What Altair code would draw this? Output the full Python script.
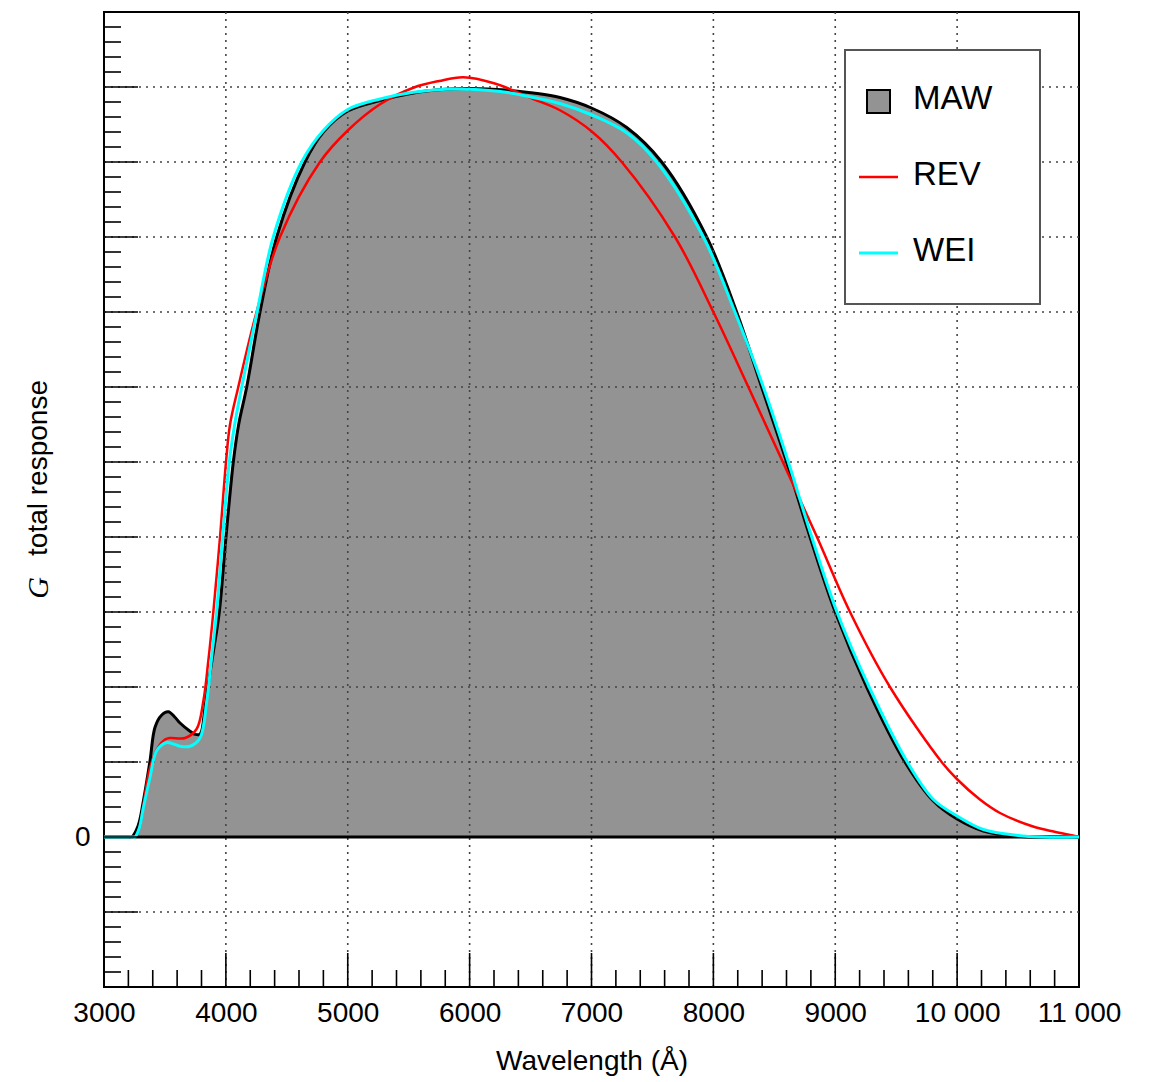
import altair as alt
import pandas as pd

# ---------------- data ----------------
maw_wl = [3000, 3200, 3227, 3280, 3323, 3377, 3418, 3470, 3528, 3580, 3624, 3706, 3747, 3788,
          3830, 3856, 3900, 3946, 4001, 4061, 4105, 4171, 4280, 4417, 4649, 4800, 5000, 5265, 5538,
          5800, 6000, 6300, 6522, 6741, 7000, 7289, 7576, 7945, 8191, 8396, 8601, 8793, 9000,
          9258, 9572, 9805, 10000, 10215, 10489, 10700, 11000]
maw_val = [0, 0, 0, 0.15, 0.48, 1.01, 1.46, 1.62, 1.67, 1.6, 1.52, 1.41, 1.37, 1.37,
           1.75, 2.05, 2.5, 3.0, 4.0, 5.0, 5.5, 6.0, 7.0, 8.0, 9.0, 9.4, 9.68, 9.82, 9.92,
           9.97, 9.98, 9.96, 9.92, 9.86, 9.72, 9.46, 9.0, 8.0, 7.0, 6.0, 5.0, 4.0, 3.0,
           2.0, 1.0, 0.48, 0.24, 0.08, 0.01, 0, 0]

rev_wl = [3000, 3200, 3250, 3290, 3323, 3377, 3446, 3500, 3541, 3665, 3760, 3815, 3856, 3897,
          3952, 4001, 4034, 4102, 4252, 4444, 4772, 5000, 5265, 5538, 5750, 5948, 6200, 6522, 6741,
          7000, 7248, 7685, 8000, 8287, 8570, 8850, 9121, 9449, 9873, 10000, 10187,
          10352, 10623, 10800, 10950, 11000]
rev_val = [0, 0, 0, 0.12, 0.42, 0.92, 1.2, 1.3, 1.32, 1.32, 1.44, 1.81, 2.35, 3.0,
           4.0, 5.0, 5.5, 6.0, 7.0, 8.0, 9.0, 9.42, 9.77, 9.99, 10.08, 10.13, 10.05, 9.84, 9.69,
           9.41, 9.0, 8.0, 7.0, 6.0, 5.0, 4.0, 3.0, 2.0, 1.0, 0.77, 0.5,
           0.32, 0.14, 0.07, 0.02, 0.0]

wei_wl = [3000, 3240, 3254, 3290, 3323, 3377, 3432, 3514, 3570, 3624, 3706, 3788, 3843, 3883,
          3924, 3974, 4028, 4072, 4130, 4256, 4389, 4622, 4800, 5000, 5265, 5538, 5800, 6000, 6300,
          6522, 6741, 7000, 7289, 7535, 7918, 8177, 8410, 8615, 8807, 9014, 9278, 9591, 9805,
          10000, 10215, 10500, 10700, 11000]
wei_val = [0, 0, 0, 0.12, 0.39, 0.79, 1.15, 1.26, 1.24, 1.21, 1.21, 1.32, 1.81, 2.39,
           3.0, 4.0, 5.0, 5.5, 6.0, 7.0, 8.0, 9.0, 9.42, 9.7, 9.84, 9.93, 9.97, 9.97, 9.93,
           9.86, 9.78, 9.63, 9.39, 9.0, 8.0, 7.0, 6.0, 5.0, 4.0, 3.0, 2.0, 1.0, 0.5,
           0.28, 0.1, 0.02, 0, 0]

x_ticks = [3000, 4000, 5000, 6000, 7000, 8000, 9000, 10000, 11000]
x_tick_labels = ["3000", "4000", "5000", "6000", "7000", "8000", "9000", "10 000", "11 000"]
x_minor = [w for w in range(3000, 11001, 200) if w % 1000 != 0]
x_grid = [4000, 5000, 6000, 7000, 8000, 9000, 10000]
y_ticks = list(range(-2, 12))
y_minor = [round(v / 5, 1) for v in range(-10, 56) if v % 5 != 0]
y_grid = [-1, 1, 2, 3, 4, 5, 6, 7, 8, 9, 10]
legend_labels = ["MAW", "REV", "WEI"]
series_colors = ["#939393", "#ff0000", "#00ffff"]

FONT = "Liberation Sans"
W, H = 975, 975
INTERP = "catmull-rom"

xs = alt.Scale(domain=[3000, 11000], nice=False, zero=False)
ys = alt.Scale(domain=[-2, 11], nice=False, zero=False)

label_expr = "[" + ",".join("'%s'" % s for s in x_tick_labels) + "][round((datum.value-3000)/1000)]"
x_axis = alt.Axis(values=x_ticks, labelExpr=label_expr, title="Wavelength (Å)", grid=False,
                  ticks=False, domain=False, labelFont=FONT, labelFontSize=28, labelColor="black",
                  labelPadding=12, titleFont=FONT, titleFontSize=28, titleFontWeight="normal",
                  titleColor="black", titlePadding=20, labelFlush=False, labelOverlap=False)
y_axis = alt.Axis(values=[0], title=None, grid=False, ticks=False, domain=False,
                  labelFont=FONT, labelFontSize=28, labelColor="black", labelPadding=14)

def X(field="wl"):
    return alt.X(f"{field}:Q", scale=xs, axis=x_axis)

def Y(field="val"):
    return alt.Y(f"{field}:Q", scale=ys, axis=y_axis)

df_maw = pd.DataFrame({"wl": maw_wl, "val": maw_val})
df_rev = pd.DataFrame({"wl": rev_wl, "val": rev_val})
df_wei = pd.DataFrame({"wl": wei_wl, "val": wei_val})
one = pd.DataFrame({"k": [0]})

area = alt.Chart(df_maw).mark_area(
    color=series_colors[0], opacity=1, interpolate=INTERP,
    line={"color": "black", "strokeWidth": 3}
).encode(x=X(), y=Y())

grid_style = dict(strokeDash=[2, 5], color="#444444", strokeWidth=1.6)
xgrid = alt.Chart(pd.DataFrame({"wl": x_grid})).mark_rule(**grid_style).encode(x=X())
ygrid = alt.Chart(pd.DataFrame({"val": y_grid})).mark_rule(**grid_style).encode(y=Y())

baseline = alt.Chart(pd.DataFrame({"val": [0]})).mark_rule(color="black", strokeWidth=3).encode(y=Y())

rev = alt.Chart(df_rev).mark_line(color=series_colors[1], strokeWidth=2.5, interpolate=INTERP).encode(x=X(), y=Y())
wei = alt.Chart(df_wei).mark_line(color=series_colors[2], strokeWidth=3, interpolate=INTERP).encode(x=X(), y=Y())

tick_style = dict(color="black", strokeWidth=1.6)
xmaj = alt.Chart(pd.DataFrame({"wl": x_ticks})).mark_rule(**tick_style).encode(
    x=X(), y=alt.value(H), y2=alt.value(H - 34))
xmin = alt.Chart(pd.DataFrame({"wl": x_minor})).mark_rule(**tick_style).encode(
    x=X(), y=alt.value(H), y2=alt.value(H - 17))
ymaj = alt.Chart(pd.DataFrame({"val": y_ticks})).mark_rule(**tick_style).encode(
    y=Y(), x=alt.value(0), x2=alt.value(34))
ymin = alt.Chart(pd.DataFrame({"val": y_minor})).mark_rule(**tick_style).encode(
    y=Y(), x=alt.value(0), x2=alt.value(17))

# y-axis title: italic G + "total response"
g_title = alt.Chart(one).mark_text(text="G", font="Liberation Serif", fontStyle="italic",
                                   fontSize=30, angle=270, align="center", baseline="middle",
                                   color="black").encode(x=alt.value(-65), y=alt.value(576))
t_title = alt.Chart(one).mark_text(text="total response", font=FONT, fontSize=28, angle=270,
                                   align="center", baseline="middle",
                                   color="black").encode(x=alt.value(-65), y=alt.value(456))

# legend box
leg_box = alt.Chart(one).mark_rect(fill="white", stroke="#555555", strokeWidth=2).encode(
    x=alt.value(741), x2=alt.value(936), y=alt.value(38), y2=alt.value(292))
leg_sq = alt.Chart(one).mark_rect(fill=series_colors[0], stroke="black", strokeWidth=2).encode(
    x=alt.value(763), x2=alt.value(786), y=alt.value(78), y2=alt.value(101))
leg_rev = alt.Chart(one).mark_rule(color=series_colors[1], strokeWidth=2.5).encode(
    x=alt.value(755), x2=alt.value(794), y=alt.value(165))
leg_wei = alt.Chart(one).mark_rule(color=series_colors[2], strokeWidth=3).encode(
    x=alt.value(755), x2=alt.value(794), y=alt.value(241))
leg_texts = [
    alt.Chart(one).mark_text(text=lab, font=FONT, fontSize=33, align="left", baseline="middle",
                             color="black").encode(x=alt.value(809), y=alt.value(yy))
    for lab, yy in zip(legend_labels, [87, 163, 239])
]

chart = alt.layer(
    area, xgrid, ygrid, baseline, rev, wei, xmaj, xmin, ymaj, ymin,
    g_title, t_title, leg_box, leg_sq, leg_rev, leg_wei, *leg_texts
).properties(
    width=W, height=H,
    autosize=alt.AutoSizeParams(type="none"),
    padding={"left": 96, "top": 4, "right": 60, "bottom": 95},
).configure_view(stroke="black", strokeWidth=2)

chart.save("out.html", embed_options={"renderer": "svg", "actions": False})
